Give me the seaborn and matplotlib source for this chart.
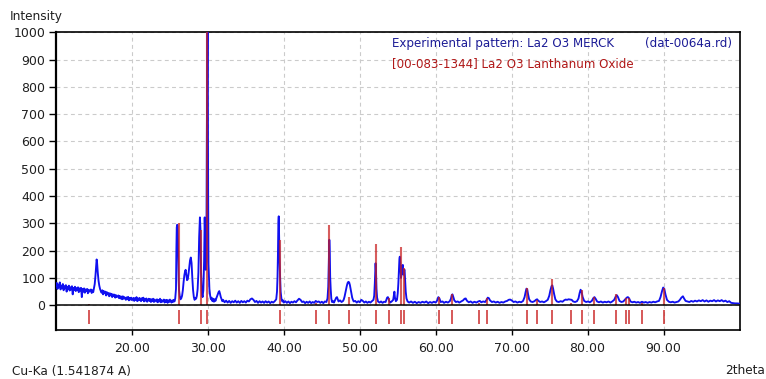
import matplotlib
matplotlib.use("Agg")
import matplotlib.pyplot as plt
import seaborn as sns
import pandas as pd

# ---- measured scan (2theta in degrees, counts) -------------------------
scan_low_angle = [
    (10.0, 70), (10.1, 82), (10.2, 60), (10.3, 76), (10.4, 66), (10.5, 84), (10.6, 58),
    (10.7, 72), (10.8, 64), (10.9, 78), (11.0, 55), (11.1, 70), (11.2, 62), (11.3, 74),
    (11.4, 50), (11.5, 68), (11.6, 60), (11.7, 72), (11.8, 54), (11.9, 66), (12.0, 58),
    (12.1, 70), (12.2, 40), (12.3, 64), (12.4, 56), (12.5, 68), (12.6, 52), (12.7, 63),
    (12.8, 55), (12.9, 66), (13.0, 48), (13.1, 62), (13.2, 54), (13.3, 64), (13.4, 30),
    (13.5, 60), (13.6, 50), (13.7, 62), (13.8, 46), (13.9, 58), (14.0, 52), (14.1, 60),
    (14.2, 44), (14.3, 57), (14.4, 50), (14.6, 58), (14.7, 45), (14.8, 55), (14.9, 48),
    (15.0, 62), (15.1, 78), (15.2, 110), (15.3, 150), (15.35, 168), (15.4, 160),
    (15.5, 120), (15.6, 90), (15.7, 72), (15.8, 60), (15.9, 52),
    (16.0, 46), (16.1, 55), (16.2, 40), (16.3, 52), (16.4, 44), (16.5, 50), (16.6, 36),
    (16.7, 48), (16.8, 40), (16.9, 45), (17.0, 33), (17.1, 44), (17.2, 36), (17.3, 42),
    (17.4, 30), (17.5, 40), (17.6, 34), (17.7, 39), (17.8, 28), (17.9, 37), (18.0, 30),
    (18.2, 36), (18.3, 26), (18.4, 34), (18.5, 25), (18.6, 32), (18.7, 22), (18.8, 33),
    (18.9, 24), (19.0, 30), (19.2, 20), (19.3, 29), (19.4, 22), (19.5, 31), (19.6, 18),
    (19.7, 27), (19.8, 21), (19.9, 28), (20.0, 19), (20.2, 27), (20.3, 16), (20.4, 26),
    (20.5, 20), (20.6, 30), (20.7, 15), (20.8, 25), (20.9, 18), (21.0, 27), (21.2, 15),
    (21.3, 26), (21.4, 19), (21.5, 28), (21.6, 14), (21.7, 24), (21.8, 17), (21.9, 25),
    (22.0, 13), (22.2, 24), (22.3, 16), (22.4, 23), (22.5, 12), (22.6, 22), (22.7, 15),
    (22.8, 24), (22.9, 12), (23.0, 21), (23.2, 14), (23.3, 22), (23.4, 11), (23.5, 20),
    (23.6, 14), (23.7, 24), (23.8, 11), (23.9, 19), (24.0, 13), (24.2, 21), (24.3, 10),
    (24.4, 19), (24.5, 13), (24.6, 20), (24.7, 9), (24.8, 18), (24.9, 12), (25.0, 21),
    (25.2, 10), (25.3, 18), (25.4, 12), (25.5, 20), (25.6, 14), (25.7, 25),
]

scan_main_peaks = [
    (25.8, 60), (25.85, 200), (25.9, 285), (25.95, 295), (26.0, 290), (26.05, 240),
    (26.1, 160), (26.15, 90), (26.2, 55), (26.3, 32), (26.4, 22), (26.5, 26), (26.6, 35),
    (26.7, 55), (26.8, 85), (26.9, 110), (27.0, 125), (27.07, 130), (27.15, 115),
    (27.25, 92), (27.35, 95), (27.45, 115), (27.55, 140), (27.65, 165), (27.75, 175),
    (27.85, 155), (27.95, 100), (28.05, 55), (28.15, 30), (28.25, 20), (28.35, 26),
    (28.45, 24), (28.55, 35), (28.65, 60), (28.75, 120), (28.85, 250), (28.95, 322),
    (29.02, 280), (29.1, 120), (29.2, 45), (29.3, 30), (29.4, 55), (29.5, 160),
    (29.58, 322), (29.65, 240), (29.72, 130), (29.8, 160), (29.86, 600), (29.93, 1000),
    (29.98, 1000), (30.03, 420), (30.08, 150), (30.13, 110), (30.2, 60), (30.3, 35),
    (30.4, 22), (30.5, 28), (30.6, 15), (30.7, 24), (30.8, 13), (30.9, 22), (31.0, 16),
    (31.1, 25), (31.2, 32), (31.3, 40), (31.4, 48), (31.5, 52), (31.6, 42), (31.7, 30),
    (31.8, 22), (31.9, 15), (32.0, 20),
]

scan_mid_angle = [
    (32.2, 11), (32.4, 17), (32.6, 10), (32.8, 16), (33.0, 9), (33.2, 15), (33.4, 11),
    (33.6, 17), (33.8, 10), (34.0, 15), (34.2, 9), (34.4, 16), (34.6, 11), (34.8, 15),
    (35.0, 10), (35.2, 17), (35.4, 14), (35.6, 22), (35.8, 25), (36.0, 20), (36.2, 12),
    (36.4, 16), (36.6, 9), (36.8, 15), (37.0, 10), (37.2, 14), (37.4, 9), (37.6, 15),
    (37.8, 10), (38.0, 14), (38.2, 8), (38.4, 13), (38.6, 10), (38.8, 15), (39.0, 22),
    (39.1, 50), (39.17, 105), (39.22, 180), (39.28, 300), (39.33, 326), (39.38, 250),
    (39.43, 178), (39.5, 110), (39.58, 50), (39.68, 25), (39.8, 14), (39.9, 18),
    (40.0, 10), (40.2, 15), (40.4, 9), (40.6, 14), (40.8, 8), (41.0, 13), (41.2, 10),
    (41.4, 15), (41.6, 11), (41.8, 18), (42.0, 24), (42.2, 20), (42.4, 12), (42.6, 14),
    (42.8, 8), (43.0, 13), (43.2, 9), (43.4, 14), (43.6, 8), (43.8, 12), (44.0, 9),
    (44.2, 16), (44.4, 12), (44.6, 14), (44.8, 9), (45.0, 13), (45.2, 8), (45.4, 14),
    (45.6, 12), (45.75, 25), (45.85, 68), (45.93, 160), (45.99, 240), (46.05, 200),
    (46.1, 105), (46.17, 60), (46.25, 25), (46.35, 12), (46.5, 15), (46.6, 10),
    (46.7, 16), (46.8, 22), (46.9, 28), (47.0, 30), (47.1, 22), (47.2, 14), (47.4, 18),
    (47.6, 12), (47.8, 16), (47.9, 22), (48.0, 32), (48.1, 45), (48.2, 58), (48.3, 72),
    (48.4, 82), (48.5, 86), (48.6, 84), (48.7, 74), (48.8, 58), (48.9, 42), (49.0, 28),
    (49.1, 20), (49.2, 14), (49.4, 16), (49.6, 10), (49.8, 15), (50.0, 11), (50.2, 20),
    (50.4, 16), (50.6, 10), (50.8, 14), (51.0, 9), (51.2, 13), (51.4, 10), (51.6, 15),
    (51.8, 20), (51.9, 35), (51.98, 80), (52.04, 130), (52.08, 154), (52.14, 120),
    (52.2, 60), (52.28, 28), (52.4, 14), (52.6, 10), (52.8, 14), (53.0, 9), (53.2, 13),
    (53.4, 12), (53.5, 20), (53.6, 28), (53.7, 30), (53.8, 24), (53.9, 14), (54.0, 10),
    (54.2, 14), (54.4, 20), (54.5, 40), (54.56, 50), (54.62, 30), (54.75, 15),
    (54.9, 20), (55.0, 45), (55.08, 80), (55.15, 130), (55.22, 170), (55.27, 178),
    (55.35, 150), (55.43, 100), (55.52, 118), (55.6, 145), (55.67, 148), (55.75, 112),
    (55.83, 128), (55.9, 130), (55.97, 90), (56.05, 50), (56.15, 25), (56.3, 14),
    (56.5, 10),
]

scan_high_angle = [
    (56.75, 14), (57.0, 9), (57.25, 13), (57.5, 8), (57.75, 12), (58.0, 9), (58.25, 13),
    (58.5, 10), (58.75, 14), (59.0, 8), (59.25, 12), (59.5, 9), (59.75, 13), (60.0, 10),
    (60.2, 18), (60.35, 30), (60.5, 24), (60.65, 12), (60.9, 14), (61.1, 9), (61.35, 13),
    (61.6, 10), (61.85, 15), (62.0, 24), (62.1, 36), (62.2, 40), (62.3, 32), (62.45, 18),
    (62.65, 12), (62.9, 14), (63.1, 10), (63.35, 14), (63.6, 18), (63.8, 24), (63.95, 25),
    (64.1, 17), (64.35, 11), (64.6, 14), (64.85, 9), (65.1, 13), (65.35, 10), (65.6, 14),
    (65.8, 16), (66.0, 11), (66.25, 14), (66.5, 12), (66.7, 20), (66.85, 28), (67.0, 26),
    (67.15, 18), (67.4, 12), (67.65, 14), (67.9, 10), (68.15, 13), (68.4, 9), (68.65, 12),
    (68.9, 10), (69.15, 14), (69.4, 16), (69.6, 20), (69.8, 21), (70.0, 18), (70.25, 12),
    (70.5, 14), (70.75, 10), (71.0, 13), (71.25, 11), (71.5, 16), (71.7, 30), (71.85, 50),
    (71.95, 61), (72.05, 58), (72.15, 42), (72.3, 22), (72.5, 14), (72.75, 12), (73.0, 15),
    (73.2, 20), (73.35, 22), (73.5, 17), (73.75, 12), (74.0, 14), (74.25, 11), (74.5, 15),
    (74.75, 20), (74.95, 35), (75.1, 55), (75.25, 70), (75.35, 73), (75.45, 62),
    (75.6, 40), (75.75, 22), (75.95, 14), (76.2, 12), (76.45, 15), (76.7, 13), (76.9, 18),
    (77.1, 21), (77.3, 20), (77.5, 22), (77.7, 21), (77.9, 20), (78.1, 14), (78.35, 12),
    (78.6, 15), (78.8, 25), (78.95, 45), (79.08, 57), (79.2, 50), (79.35, 30), (79.55, 16),
    (79.8, 12), (80.05, 14), (80.3, 11), (80.55, 16), (80.75, 26), (80.9, 30), (81.05, 24),
    (81.25, 14), (81.5, 11), (81.75, 14), (82.0, 10), (82.25, 13), (82.5, 11), (82.75, 14),
    (83.0, 10), (83.25, 14), (83.5, 20), (83.7, 32), (83.85, 37), (84.0, 30), (84.2, 16),
    (84.45, 12), (84.7, 14), (84.95, 22), (85.15, 28), (85.3, 30), (85.45, 26), (85.65, 14),
    (85.9, 11), (86.15, 13), (86.4, 10), (86.65, 12), (86.9, 9), (87.15, 13), (87.4, 10),
    (87.65, 12), (87.9, 9), (88.15, 12), (88.4, 10), (88.65, 13), (88.9, 11), (89.15, 14),
    (89.4, 16), (89.6, 30), (89.8, 52), (89.95, 65), (90.1, 60), (90.25, 40), (90.45, 20),
    (90.7, 13), (90.95, 11), (91.2, 13), (91.45, 10), (91.7, 12), (91.95, 14), (92.15, 20),
    (92.35, 28), (92.55, 33), (92.7, 25), (92.9, 16), (93.15, 14), (93.4, 12), (93.65, 16),
    (93.9, 13), (94.15, 17), (94.4, 14), (94.65, 18), (94.9, 15), (95.15, 19), (95.4, 14),
    (95.65, 18), (95.9, 13), (96.15, 17), (96.4, 15), (96.65, 19), (96.9, 14), (97.15, 18),
    (97.4, 15), (97.65, 19), (97.9, 14), (98.15, 17), (98.4, 12), (98.65, 15), (98.9, 9),
    (99.15, 8), (99.4, 7), (99.7, 7), (100.0, 6),
]

# ---- reference pattern 00-083-1344 (La2O3) -----------------------------
ref_2theta = [14.3, 26.15, 29.08, 29.92, 39.45, 44.24, 46.0, 48.55, 52.15, 53.82,
              55.4, 55.87, 60.49, 62.16, 65.76, 66.77, 72.04, 73.32, 75.34, 77.84,
              79.2, 80.78, 83.77, 85.09, 85.39, 87.2, 90.05]
ref_intensity = [5, 300, 275, 1000, 240, 8, 294, 30, 224, 25,
                 214, 138, 30, 40, 10, 25, 65, 18, 98, 10,
                 57, 30, 40, 28, 25, 8, 65]

y_ticks = [0, 100, 200, 300, 400, 500, 600, 700, 800, 900, 1000]
x_ticks = [20, 30, 40, 50, 60, 70, 80, 90]
x_tick_labels = ["20.00", "30.00", "40.00", "50.00", "60.00", "70.00", "80.00", "90.00"]

scan = pd.DataFrame(scan_low_angle + scan_main_peaks + scan_mid_angle + scan_high_angle,
                    columns=["two_theta", "counts"])

sns.set_theme(style="white")
plt.rcParams["font.family"] = ["DejaVu Sans"]

W, H = 766, 379
fig = plt.figure(figsize=(W / 100, H / 100), dpi=100)
left, right, top, bottom = 56, 739.5, 32.3, 330
ax = fig.add_axes([left / W, 1 - bottom / H, (right - left) / W, (bottom - top) / H])

BLUE = "#1010f0"
RED = "#c81e1e"

sns.lineplot(data=scan, x="two_theta", y="counts", ax=ax, color=BLUE,
             linewidth=1.35, estimator=None, sort=False, zorder=3)

# reference sticks and position markers
ax.vlines(ref_2theta, 0, ref_intensity, color=RED, alpha=0.72, linewidth=1.5, zorder=4)
ax.vlines(ref_2theta, -68, -18, color=RED, alpha=0.8, linewidth=1.3, zorder=4)

ax.axhline(0, color="black", linewidth=1.1, zorder=5)

ax.set_xlim(10, 100)
ax.set_ylim(-90.5, 1000)
ax.set_xticks(x_ticks)
ax.set_xticklabels(x_tick_labels)
ax.set_yticks(y_ticks)
ax.set_yticklabels([str(v) for v in y_ticks])
ax.set_xlabel("")
ax.set_ylabel("")

ax.grid(True, linestyle=(0, (3.5, 3)), color="#cbcbcb", linewidth=0.8, zorder=0)
ax.set_axisbelow(True)
for side, spine in ax.spines.items():
    spine.set_color("black")
    spine.set_linewidth(1.2)
ax.spines["left"].set_linewidth(1.6)

ax.tick_params(axis="y", direction="out", length=4.8, width=1.0, color="black",
               pad=3.0, labelsize=9, labelcolor="#202020", left=True)
ax.tick_params(axis="x", direction="out", length=3.6, width=1.0, color="black",
               pad=5.0, labelsize=9, labelcolor="#202020", bottom=True)

txt = dict(fontsize=8.7, color="#202020")
fig.text(9.3 / W, 1 - 16.7 / H, "Intensity", ha="left", va="center", **txt)
fig.text(11.7 / W, 1 - 371 / H, "Cu-Ka (1.541874 A)", ha="left", va="center", **txt)
fig.text(765 / W, 1 - 371 / H, "2theta", ha="right", va="center", **txt)

fig.text(391.7 / W, 1 - 44 / H, "Experimental pattern: La2 O3 MERCK",
         ha="left", va="center", fontsize=8.6, color="#1c1c96")
fig.text(645 / W, 1 - 44 / H, "(dat-0064a.rd)",
         ha="left", va="center", fontsize=8.6, color="#1c1c96")
fig.text(391.7 / W, 1 - 63.3 / H, "[00-083-1344] La2 O3 Lanthanum Oxide",
         ha="left", va="center", fontsize=8.6, color="#b01818")

fig.savefig("out.png", dpi=100)
